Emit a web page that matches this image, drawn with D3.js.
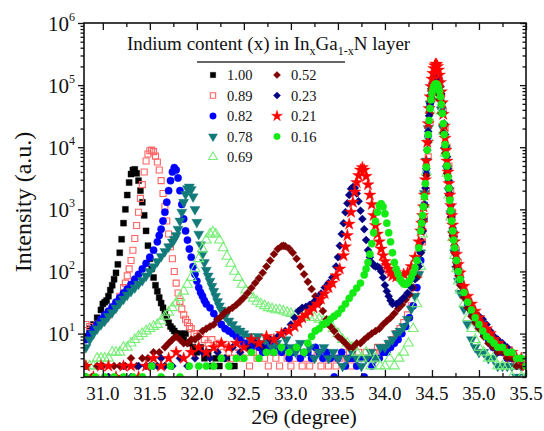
<!DOCTYPE html>
<html lang="en">
<head>
<meta charset="utf-8">
<script src="https://cdn.jsdelivr.net/npm/d3@7/dist/d3.min.js"></script>
<style>
  body { margin: 0; background: #fff; }
  svg { display: block; }
  svg text { font-family: "Liberation Serif", serif; }
</style>
</head>
<body>
<svg id="chart" width="544" height="431" font-family="Liberation Serif"></svg>
<script>
// XRD 2θ scans of InxGa1-xN layers: [2θ (degree), intensity (counts)]
const thetaTicks = [31.0, 31.5, 32.0, 32.5, 33.0, 33.5, 34.0, 34.5, 35.0, 35.5];
const thetaTickLabels = ["31.0", "31.5", "32.0", "32.5", "33.0", "33.5", "34.0", "34.5", "35.0", "35.5"];
const thetaMinorTicks = [31.25, 31.75, 32.25, 32.75, 33.25, 33.75, 34.25, 34.75, 35.25];
const decadeTicks = [1e1, 1e2, 1e3, 1e4, 1e5, 1e6];
const decadeExponents = ["1", "2", "3", "4", "5", "6"];
const legendLabels = ["1.00", "0.89", "0.82", "0.78", "0.69", "0.52", "0.23", "0.21", "0.16"];

const scan100 = [[30.82,9],[30.86,12],[30.90,14],[30.94,18],[30.98,24],[31.00,30],[31.02,32],[31.04,34],[31.06,40],[31.08,50],[31.10,60],[31.12,75],[31.14,95],[31.16,130],[31.18,200],[31.20,330],[31.22,600],[31.24,1000],[31.26,1700],[31.28,2700],[31.30,3700],[31.32,4300],[31.34,4400],[31.36,3800],[31.38,2900],[31.40,2000],[31.42,1300],[31.44,800],[31.46,450],[31.48,260],[31.50,160],[31.52,110],[31.54,80],[31.56,60],[31.58,48],[31.60,38],[31.62,31],[31.64,26],[31.66,22],[31.68,18],[31.70,15],[31.72,13],[31.74,12],[31.76,11],[31.78,10],[31.80,9],[31.82,10],[31.84,9],[31.86,8],[31.88,10],[31.92,7],[31.96,6],[32.00,5],[32.04,6],[32.08,4],[32.12,5],[32.16,3],[32.20,4],[32.24,3],[32.28,4],[32.32,4],[32.36,3],[32.40,3]];

const scan089 = [[30.82,14],[30.86,13],[30.90,12],[30.94,14],[30.98,15],[31.02,17],[31.06,20],[31.10,24],[31.14,30],[31.18,40],[31.22,55],[31.24,65],[31.26,85],[31.28,110],[31.30,150],[31.32,220],[31.34,340],[31.36,550],[31.38,900],[31.40,1500],[31.42,2500],[31.44,4000],[31.46,6000],[31.48,7800],[31.50,8800],[31.52,9000],[31.54,8500],[31.56,7200],[31.58,5800],[31.60,4300],[31.62,2900],[31.64,1800],[31.66,1100],[31.68,650],[31.70,400],[31.72,250],[31.74,160],[31.76,100],[31.78,65],[31.80,45],[31.82,33],[31.84,25],[31.86,20],[31.88,17],[31.90,15],[31.92,13],[31.94,12],[31.97,10],[32.00,9],[32.04,10],[32.08,8],[32.12,7],[32.16,8],[32.20,6],[32.24,7],[32.28,5],[32.32,6],[32.36,4],[32.40,5],[32.44,6],[32.48,4],[32.52,5],[32.56,3],[32.60,5],[32.64,4],[32.68,6],[32.72,4],[32.76,3],[32.80,5],[32.84,4],[32.88,3],[32.92,5],[32.96,4],[33.00,3],[33.04,4],[33.08,5],[33.12,3],[33.16,4],[33.20,3],[33.24,4],[33.28,5],[33.32,3],[33.36,4],[33.40,3],[33.44,4],[33.48,3],[33.52,4],[33.56,5],[33.60,4],[33.64,3],[33.68,4],[33.72,5],[33.76,4],[33.80,5],[33.84,4],[33.88,5],[33.92,6],[33.96,5],[34.00,6],[34.04,7],[34.08,8],[34.12,10],[34.16,12],[34.20,15],[34.24,20],[34.28,28],[34.32,45],[34.36,90],[34.40,300],[34.42,700],[34.44,2000],[34.46,7000],[34.48,25000],[34.50,60000],[34.52,85000],[34.54,98000],[34.56,100000],[34.58,90000],[34.60,65000],[34.62,38000],[34.64,20000],[34.66,10000],[34.68,5000],[34.70,2000],[34.72,900],[34.74,400],[34.76,220],[34.78,140],[34.80,95],[34.84,55],[34.88,36],[34.92,26],[34.96,19],[35.00,15],[35.05,11],[35.10,9],[35.15,7],[35.20,6],[35.25,6],[35.30,5],[35.35,4],[35.40,4],[35.45,3],[35.50,3]];

const scan082 = [[30.82,8],[30.86,10],[30.90,12],[30.94,14],[30.98,17],[31.02,20],[31.06,23],[31.10,27],[31.14,32],[31.18,38],[31.22,45],[31.26,52],[31.30,62],[31.34,75],[31.38,90],[31.42,110],[31.46,135],[31.50,170],[31.54,220],[31.58,300],[31.60,380],[31.62,480],[31.64,650],[31.66,900],[31.68,1300],[31.70,2000],[31.72,2900],[31.74,4000],[31.76,4700],[31.78,4300],[31.80,3200],[31.82,2000],[31.84,1200],[31.86,700],[31.88,450],[31.90,320],[31.92,230],[31.94,170],[31.96,120],[31.98,90],[32.00,70],[32.02,55],[32.04,46],[32.06,40],[32.08,34],[32.10,30],[32.14,26],[32.18,21],[32.22,17],[32.26,14],[32.30,12],[32.34,11],[32.38,10],[32.42,9],[32.46,8],[32.50,7],[32.54,7],[32.58,6],[32.62,7],[32.66,6],[32.70,5],[32.74,6],[32.78,7],[32.82,5],[32.86,6],[32.90,5],[32.94,6],[32.98,4],[33.02,5],[33.06,6],[33.10,4],[33.14,5],[33.18,5],[33.22,4],[33.26,6],[33.30,5],[33.34,4],[33.38,5],[33.42,4],[33.46,2],[33.50,4],[33.54,5],[33.58,3],[33.62,4],[33.66,4],[33.70,3],[33.74,4],[33.78,2],[33.82,4],[33.86,3],[33.90,4],[33.94,4],[33.98,5],[34.02,5],[34.06,6],[34.10,7],[34.14,8],[34.18,10],[34.22,13],[34.26,18],[34.30,28],[34.34,55],[34.38,150],[34.40,450],[34.42,1200],[34.44,4000],[34.46,15000],[34.48,45000],[34.50,80000],[34.52,98000],[34.54,100000],[34.56,95000],[34.58,75000],[34.60,45000],[34.62,22000],[34.64,10000],[34.66,5000],[34.68,2200],[34.70,900],[34.72,450],[34.74,230],[34.76,140],[34.78,95],[34.80,70],[34.84,42],[34.88,30],[34.92,22],[34.96,17],[35.00,13],[35.05,10],[35.10,8],[35.15,6],[35.20,5],[35.25,5],[35.30,4],[35.35,4],[35.40,3],[35.45,3],[35.50,2]];

const scan078 = [[30.82,6],[30.86,8],[30.90,10],[30.94,12],[30.98,14],[31.02,16],[31.06,19],[31.10,22],[31.14,26],[31.18,31],[31.22,36],[31.26,42],[31.30,48],[31.34,55],[31.38,63],[31.42,72],[31.46,85],[31.50,100],[31.54,120],[31.58,145],[31.62,175],[31.66,210],[31.70,250],[31.74,300],[31.76,330],[31.78,380],[31.80,480],[31.82,650],[31.84,900],[31.86,1300],[31.88,1750],[31.90,2150],[31.92,2300],[31.94,2100],[31.96,1600],[31.98,1000],[32.00,620],[32.02,400],[32.04,270],[32.06,190],[32.08,140],[32.10,105],[32.12,85],[32.14,70],[32.16,58],[32.18,48],[32.20,40],[32.22,33],[32.24,28],[32.26,24],[32.30,19],[32.34,16],[32.38,14],[32.42,12],[32.46,11],[32.50,10],[32.55,9],[32.60,8],[32.65,9],[32.70,7],[32.75,8],[32.80,6],[32.85,7],[32.90,6],[32.95,8],[33.00,6],[33.05,5],[33.10,7],[33.15,5],[33.20,6],[33.25,4],[33.30,5],[33.35,6],[33.40,4],[33.45,5],[33.50,4],[33.55,3],[33.60,4],[33.65,5],[33.70,4],[33.75,3],[33.80,4],[33.85,5],[33.90,4],[33.95,6],[34.00,6],[34.04,7],[34.08,8],[34.12,10],[34.16,11],[34.20,13],[34.24,17],[34.28,25],[34.32,40],[34.36,90],[34.38,200],[34.40,600],[34.42,1800],[34.44,6000],[34.46,20000],[34.48,50000],[34.50,80000],[34.52,95000],[34.54,100000],[34.56,90000],[34.58,70000],[34.60,40000],[34.62,20000],[34.64,9000],[34.66,4500],[34.68,2000],[34.70,850],[34.72,400],[34.74,200],[34.76,110],[34.78,70],[34.80,45],[34.84,25],[34.88,14],[34.92,8],[34.96,6],[35.00,5],[35.05,5],[35.10,4],[35.15,4],[35.20,3],[35.25,3],[35.30,3],[35.35,3],[35.40,2],[35.45,3],[35.50,2]];

const scan069 = [[30.82,3],[30.86,3],[30.90,3],[30.94,4],[30.98,4],[31.02,4],[31.06,4],[31.10,5],[31.14,5],[31.18,5],[31.22,6],[31.26,6],[31.30,7],[31.34,8],[31.38,9],[31.42,10],[31.46,11],[31.50,12],[31.54,13],[31.58,14],[31.62,16],[31.66,19],[31.70,22],[31.74,26],[31.78,31],[31.82,38],[31.86,48],[31.90,62],[31.94,80],[31.98,110],[32.02,160],[32.06,230],[32.10,320],[32.14,400],[32.17,430],[32.20,400],[32.24,320],[32.28,240],[32.32,175],[32.36,135],[32.40,100],[32.44,80],[32.48,62],[32.52,50],[32.56,42],[32.60,37],[32.64,33],[32.68,30],[32.72,28],[32.76,26],[32.80,25],[32.84,24],[32.88,24],[32.92,23],[32.96,22],[33.00,21],[33.05,20],[33.10,20],[33.15,19],[33.20,18],[33.25,18],[33.30,17],[33.35,16],[33.40,14],[33.45,12],[33.50,10],[33.55,8],[33.60,7],[33.65,6],[33.70,5],[33.75,4],[33.80,5],[33.85,3],[33.90,4],[33.95,3],[34.00,3],[34.05,4],[34.10,3],[34.15,4],[34.20,5],[34.25,7],[34.30,12],[34.34,30],[34.38,120],[34.40,400],[34.42,1200],[34.44,4000],[34.46,14000],[34.48,40000],[34.50,70000],[34.52,85000],[34.54,90000],[34.56,85000],[34.58,65000],[34.60,38000],[34.62,18000],[34.64,8000],[34.66,3800],[34.68,1700],[34.70,750],[34.72,350],[34.74,180],[34.76,110],[34.78,70],[34.80,50],[34.84,30],[34.88,18],[34.92,12],[34.96,8],[35.00,6],[35.05,5],[35.10,4],[35.15,4],[35.20,3],[35.25,3],[35.30,3],[35.35,2],[35.40,3],[35.45,2],[35.50,2]];

const scan052 = [[30.82,3],[30.88,2],[30.94,3],[31.00,3],[31.06,2],[31.12,3],[31.18,3],[31.24,3],[31.30,4],[31.36,3],[31.42,4],[31.48,4],[31.54,5],[31.60,5],[31.66,6],[31.70,7],[31.74,8],[31.78,9],[31.82,8],[31.86,7],[31.90,7],[31.94,8],[31.98,8],[32.02,9],[32.06,11],[32.10,12],[32.14,13],[32.18,14],[32.22,17],[32.26,19],[32.30,22],[32.34,24],[32.38,26],[32.42,29],[32.46,33],[32.50,38],[32.54,45],[32.58,54],[32.62,65],[32.66,78],[32.70,95],[32.74,120],[32.78,150],[32.82,190],[32.86,230],[32.90,255],[32.92,260],[32.94,255],[32.98,235],[33.02,200],[33.06,160],[33.10,120],[33.14,90],[33.18,68],[33.22,52],[33.26,40],[33.30,31],[33.34,23],[33.38,17],[33.42,13],[33.46,11],[33.50,9],[33.54,8],[33.58,7],[33.62,6],[33.66,6],[33.70,7],[33.74,7],[33.78,8],[33.82,9],[33.86,10],[33.90,11],[33.94,12],[33.98,14],[34.02,16],[34.06,18],[34.10,21],[34.14,25],[34.18,29],[34.22,35],[34.26,42],[34.30,55],[34.34,80],[34.38,200],[34.40,450],[34.42,1100],[34.44,3500],[34.46,12000],[34.48,35000],[34.50,60000],[34.52,75000],[34.54,80000],[34.56,75000],[34.58,58000],[34.60,35000],[34.62,17000],[34.64,8000],[34.66,3800],[34.68,1700],[34.70,750],[34.72,380],[34.74,200],[34.76,120],[34.78,85],[34.80,60],[34.84,38],[34.88,26],[34.92,19],[34.96,15],[35.00,12],[35.05,9],[35.10,7],[35.15,6],[35.20,5],[35.25,5],[35.30,4],[35.35,4],[35.40,3],[35.45,3],[35.50,3]];

const scan023 = [[30.82,2],[30.90,2],[30.98,3],[31.06,2],[31.14,2],[31.22,3],[31.30,2],[31.38,3],[31.46,3],[31.50,3],[31.54,3],[31.58,3],[31.62,4],[31.66,3],[31.74,3],[31.82,4],[31.90,3],[31.98,4],[32.06,5],[32.14,4],[32.22,5],[32.30,4],[32.38,6],[32.46,5],[32.54,6],[32.62,7],[32.70,6],[32.78,8],[32.86,9],[32.94,11],[33.00,14],[33.04,18],[33.08,23],[33.12,26],[33.16,27],[33.20,29],[33.24,32],[33.28,36],[33.32,44],[33.36,55],[33.40,65],[33.44,80],[33.48,120],[33.50,170],[33.52,260],[33.54,400],[33.56,600],[33.58,900],[33.60,1250],[33.62,1700],[33.64,2150],[33.66,2300],[33.68,2200],[33.70,1800],[33.72,1350],[33.74,950],[33.76,700],[33.78,480],[33.80,320],[33.82,220],[33.84,170],[33.86,140],[33.88,125],[33.90,120],[33.92,120],[33.94,115],[33.96,100],[33.98,80],[34.00,60],[34.02,48],[34.04,40],[34.06,34],[34.08,30],[34.12,30],[34.16,33],[34.20,38],[34.24,45],[34.28,55],[34.32,75],[34.36,120],[34.38,200],[34.39,300],[34.40,450],[34.41,700],[34.42,1200],[34.43,2200],[34.44,4500],[34.45,9000],[34.46,18000],[34.47,32000],[34.48,50000],[34.49,70000],[34.50,90000],[34.51,108000],[34.52,122000],[34.53,132000],[34.54,138000],[34.55,140000],[34.56,138000],[34.57,130000],[34.58,115000],[34.59,95000],[34.60,72000],[34.61,52000],[34.62,36000],[34.63,24000],[34.64,16000],[34.65,10500],[34.66,7000],[34.67,4500],[34.68,2900],[34.69,1800],[34.70,1150],[34.71,750],[34.72,500],[34.73,360],[34.74,260],[34.76,160],[34.78,110],[34.80,80],[34.84,50],[34.88,35],[34.92,26],[34.96,21],[35.00,19],[35.04,17],[35.08,14],[35.12,11],[35.16,9],[35.20,8],[35.25,7],[35.30,6],[35.35,5],[35.40,4],[35.45,4],[35.50,3]];

const scan021 = [[30.82,3],[30.90,2],[30.98,3],[31.06,3],[31.14,2],[31.22,3],[31.30,3],[31.38,2],[31.46,3],[31.54,4],[31.62,3],[31.70,4],[31.78,5],[31.86,4],[31.94,5],[32.02,6],[32.10,5],[32.18,6],[32.26,7],[32.34,6],[32.42,7],[32.50,6],[32.58,8],[32.66,7],[32.74,9],[32.82,8],[32.90,10],[32.98,11],[33.04,13],[33.08,15],[33.12,18],[33.16,20],[33.20,23],[33.24,26],[33.28,30],[33.32,36],[33.36,44],[33.40,55],[33.44,65],[33.48,85],[33.52,110],[33.56,180],[33.58,250],[33.60,380],[33.62,580],[33.64,900],[33.66,1300],[33.68,1900],[33.70,2700],[33.72,3500],[33.74,4300],[33.76,4700],[33.78,4300],[33.80,3400],[33.82,2500],[33.84,1700],[33.86,1200],[33.88,800],[33.90,550],[33.92,400],[33.94,300],[33.96,230],[33.98,180],[34.00,145],[34.02,125],[34.04,110],[34.06,95],[34.08,85],[34.12,82],[34.16,85],[34.20,90],[34.24,95],[34.28,120],[34.32,170],[34.36,300],[34.38,450],[34.39,600],[34.40,800],[34.41,1100],[34.42,1700],[34.43,3000],[34.44,6000],[34.45,12000],[34.46,24000],[34.47,42000],[34.48,65000],[34.49,95000],[34.50,125000],[34.51,155000],[34.52,185000],[34.53,205000],[34.54,218000],[34.55,215000],[34.56,200000],[34.57,175000],[34.58,145000],[34.59,110000],[34.60,78000],[34.61,52000],[34.62,34000],[34.63,22000],[34.64,14000],[34.65,9000],[34.66,6000],[34.67,4000],[34.68,2600],[34.69,1700],[34.70,1150],[34.71,800],[34.72,560],[34.73,400],[34.74,300],[34.76,190],[34.78,130],[34.80,95],[34.84,58],[34.88,40],[34.92,30],[34.96,23],[35.00,18],[35.04,14],[35.08,12],[35.12,10],[35.16,8],[35.20,7],[35.25,6],[35.30,5],[35.35,5],[35.40,4],[35.45,4],[35.50,3]];

const scan016 = [[30.82,2],[30.92,2],[31.02,2],[31.12,2],[31.22,2],[31.32,2],[31.42,2],[31.52,3],[31.62,2],[31.72,3],[31.82,2],[31.92,3],[32.02,3],[32.10,3],[32.18,3],[32.26,4],[32.34,3],[32.42,4],[32.50,4],[32.58,5],[32.66,4],[32.74,5],[32.82,5],[32.90,6],[32.98,5],[33.06,6],[33.14,5],[33.18,7],[33.22,9],[33.26,11],[33.30,12],[33.34,14],[33.38,15],[33.42,17],[33.46,19],[33.50,21],[33.54,25],[33.58,30],[33.62,37],[33.66,45],[33.70,54],[33.74,65],[33.78,88],[33.80,110],[33.82,140],[33.84,190],[33.86,280],[33.88,420],[33.90,640],[33.92,900],[33.94,1150],[33.96,1230],[33.98,1100],[34.00,850],[34.02,600],[34.04,420],[34.06,300],[34.08,200],[34.10,140],[34.12,110],[34.14,90],[34.16,75],[34.18,68],[34.20,63],[34.22,62],[34.24,65],[34.26,70],[34.28,80],[34.30,95],[34.32,115],[34.34,150],[34.36,240],[34.38,450],[34.39,600],[34.40,800],[34.41,1100],[34.42,1600],[34.43,2600],[34.44,4800],[34.45,9000],[34.46,16000],[34.47,27000],[34.48,42000],[34.49,58000],[34.50,73000],[34.51,86000],[34.52,96000],[34.53,102000],[34.54,105000],[34.55,104000],[34.56,100000],[34.57,92000],[34.58,80000],[34.59,65000],[34.60,49000],[34.61,35000],[34.62,24000],[34.63,16000],[34.64,11000],[34.65,7500],[34.66,5000],[34.67,3300],[34.68,2200],[34.69,1400],[34.70,950],[34.71,650],[34.72,450],[34.73,320],[34.74,240],[34.76,150],[34.78,100],[34.80,75],[34.84,46],[34.88,32],[34.92,24],[34.96,18],[35.00,14],[35.04,11],[35.08,9],[35.12,8],[35.16,7],[35.20,6],[35.25,6],[35.30,5],[35.35,5],[35.40,4],[35.45,4],[35.50,3]];

const scans = [scan100, scan089, scan082, scan078, scan069, scan052, scan023, scan021, scan016];

// marker style per sample, same order as legendLabels
const styles = [
  { shape: "square",   color: "#000000", open: false },
  { shape: "square",   color: "#ff6464", open: true  },
  { shape: "circle",   color: "#0000ff", open: false },
  { shape: "triDown",  color: "#137a7a", open: false },
  { shape: "triUp",    color: "#78ee78", open: true  },
  { shape: "diamond",  color: "#800000", open: false },
  { shape: "diamond",  color: "#000080", open: false },
  { shape: "star",     color: "#ff0000", open: false },
  { shape: "circle",   color: "#14ea14", open: false }
];

const FONT = "Liberation Serif";
const plot = { left: 84, right: 526, top: 23, bottom: 377 };

const svg = d3.select("#chart");
const x = d3.scaleLinear().domain([30.8, 35.5]).range([plot.left, plot.right]);
const y = d3.scaleLog().domain([2, 1e6]).range([plot.bottom, plot.top]);

const shapes = {
  square:  { type: d3.symbolSquare,   size: 36, rot: 0 },
  circle:  { type: d3.symbolCircle,   size: 42, rot: 0 },
  triDown: { type: d3.symbolTriangle, size: 44, rot: 180 },
  triUp:   { type: d3.symbolTriangle, size: 42, rot: 0 },
  diamond: { type: d3.symbolSquare,   size: 32, rot: 45 },
  star:    { type: d3.symbolStar,     size: 46, rot: 0 }
};

function styleMark(sel, st, scale) {
  const sh = shapes[st.shape];
  sel.attr("d", d3.symbol().type(sh.type).size(sh.size * scale)())
    .attr("fill", st.open ? "none" : st.color)
    .attr("stroke", st.color)
    .attr("stroke-width", st.open ? 1.1 : 0.4);
  return sh.rot;
}

svg.append("defs").append("clipPath").attr("id", "plotClip")
  .append("rect")
  .attr("x", plot.left).attr("y", plot.top)
  .attr("width", plot.right - plot.left).attr("height", plot.bottom - plot.top);

// scan points
const marks = svg.append("g").attr("clip-path", "url(#plotClip)");
scans.forEach((scan, i) => {
  const st = styles[i];
  const rot = shapes[st.shape].rot;
  const sel = marks.append("g").selectAll("path").data(scan).join("path")
    .attr("transform", d => `translate(${x(d[0])},${y(d[1])}) rotate(${rot})`);
  styleMark(sel, st, 1);
});

// axes (tick marks only; labels are drawn as plain text below)
function clean(g) {
  g.attr("font-family", FONT);
  g.select(".domain").remove();
  g.selectAll(".tick line").attr("stroke", "#111").attr("stroke-width", 1.3);
}
const minorY = [];
for (let e = 0; e < 6; e++) for (let m = 2; m <= 9; m++) {
  const v = m * Math.pow(10, e);
  if (v >= 2 && v < 1e6) minorY.push(v);
}

svg.append("g").attr("transform", `translate(0,${plot.bottom})`)
  .call(d3.axisBottom(x).tickValues(thetaTicks).tickSize(-7).tickFormat("")).call(clean);
svg.append("g").attr("transform", `translate(0,${plot.bottom})`)
  .call(d3.axisBottom(x).tickValues(thetaMinorTicks).tickSize(-4).tickFormat("")).call(clean);
svg.append("g").attr("transform", `translate(0,${plot.top})`)
  .call(d3.axisTop(x).tickValues(thetaTicks).tickSize(-7).tickFormat("")).call(clean);
svg.append("g").attr("transform", `translate(0,${plot.top})`)
  .call(d3.axisTop(x).tickValues(thetaMinorTicks).tickSize(-4).tickFormat("")).call(clean);

svg.append("g").attr("transform", `translate(${plot.left},0)`)
  .call(d3.axisLeft(y).tickValues(decadeTicks).tickSize(6).tickFormat("")).call(clean);
svg.append("g").attr("transform", `translate(${plot.left},0)`)
  .call(d3.axisLeft(y).tickValues(minorY).tickSize(3.5).tickFormat("")).call(clean);
svg.append("g").attr("transform", `translate(${plot.right},0)`)
  .call(d3.axisRight(y).tickValues(decadeTicks).tickSize(-6).tickFormat("")).call(clean);
svg.append("g").attr("transform", `translate(${plot.right},0)`)
  .call(d3.axisRight(y).tickValues(minorY).tickSize(-3.5).tickFormat("")).call(clean);

// x tick labels
svg.append("g").selectAll("text").data(thetaTicks).join("text")
  .attr("x", d => x(d)).attr("y", 400)
  .attr("text-anchor", "middle").attr("font-size", 19)
  .text((d, i) => thetaTickLabels[i]);

// y tick labels as powers of ten
const yl = svg.append("g").selectAll("text").data(decadeTicks).join("text")
  .attr("x", 75).attr("y", d => y(d) + 7.5)
  .attr("text-anchor", "end").attr("font-size", 21);
yl.append("tspan").text("10");
yl.append("tspan").attr("font-size", 12).attr("dy", -10).text((d, i) => decadeExponents[i]);

// frame
svg.append("rect")
  .attr("x", plot.left).attr("y", plot.top)
  .attr("width", plot.right - plot.left).attr("height", plot.bottom - plot.top)
  .attr("fill", "none").attr("stroke", "#111").attr("stroke-width", 1.6);

// axis titles
svg.append("text").attr("x", 304).attr("y", 424).attr("text-anchor", "middle")
  .attr("font-size", 22).text("2\u0398 (degree)");
svg.append("text").attr("transform", "translate(31,202) rotate(-90)")
  .attr("text-anchor", "middle").attr("font-size", 24).text("Intensity (a.u.)");

// legend
const lt = svg.append("text").attr("x", 127).attr("y", 50).attr("font-size", 19);
lt.append("tspan").text("Indium content (x) in In");
lt.append("tspan").attr("font-size", 12).attr("dy", 5).text("x");
lt.append("tspan").attr("dy", -5).text("Ga");
lt.append("tspan").attr("font-size", 12).attr("dy", 5).text("1-x");
lt.append("tspan").attr("dy", -5).text("N layer");
svg.append("line").attr("x1", 197).attr("x2", 345).attr("y1", 62).attr("y2", 62)
  .attr("stroke", "#333").attr("stroke-width", 1.5);

const rowY = [80, 100.5, 121, 141.5, 162];
legendLabels.forEach((lab, i) => {
  const col = i < 5 ? 0 : 1;
  const row = i < 5 ? i : i - 5;
  const sx = col === 0 ? 213 : 277;
  const tx = col === 0 ? 227 : 291;
  const by = rowY[row];
  const st = styles[i];
  const p = svg.append("path");
  const rot = styleMark(p, st, 0.8);
  p.attr("transform", `translate(${sx},${by - 5}) rotate(${rot})`);
  svg.append("text").attr("x", tx).attr("y", by).attr("font-size", 14.5).text(lab);
});

// serif face for every label
svg.selectAll("text").attr("font-family", FONT).style("font-family", FONT).attr("fill", "#111");
</script>
</body>
</html>
